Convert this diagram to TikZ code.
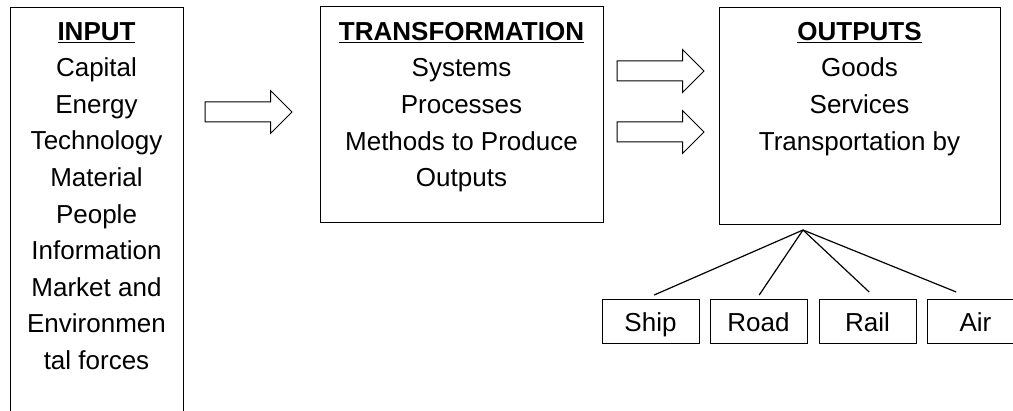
\documentclass[tikz,border=0pt]{standalone}
\usepackage{fontspec}
\setmainfont{Liberation Sans}
\usetikzlibrary{shapes.arrows}

\begin{document}
\begin{tikzpicture}[x=1pt, y=-1pt, font=\fontsize{26}{36.6}\selectfont,
    box/.style={draw, line width=1.4pt, inner sep=0, anchor=north west},
    lines/.style={align=center, inner sep=0, anchor=north},
    fat/.style={single arrow, draw, line width=1pt, inner xsep=0, inner ysep=9.5pt,
        single arrow head extend=11.5pt, single arrow tip angle=90, minimum height=87pt}]
    \useasboundingbox (0, 0) rectangle (1013, 411);

    \node (input) [box, minimum width=173pt, minimum height=425pt] at (10, 7) {};
    \node (trans) [box, minimum width=283pt, minimum height=216pt] at (320, 6) {};
    \node (output) [box, minimum width=281pt, minimum height=217pt] at (719, 7) {};

    \node (inputtext) [lines] at (96.5, 22) {\underline{\textbf{INPUT}}\\ Capital\\ Energy\\ Technology\\ Material\\ People\\ Information\\ Market and\\ Environmen\\ tal forces};
    \node (transtext) [lines] at (461.5, 22) {\underline{\textbf{TRANSFORMATION}}\\ Systems\\ Processes\\ Methods to Produce\\ Outputs};
    \node (outputtext) [lines] at (859.5, 22) {\underline{\textbf{OUTPUTS}}\\ Goods\\ Services\\ Transportation by};

    \node (arr1) [fat] at (243.5, 112) {};
    \node (arr2) [fat] at (655.5, 71) {};
    \node (arr3) [fat] at (655.5, 132) {};

    \node (ship) [box, minimum width=97pt, minimum height=44pt] at (602, 299) {};
    \node (road) [box, minimum width=97pt, minimum height=44pt] at (710, 299) {};
    \node (rail) [box, minimum width=97pt, minimum height=44pt] at (819, 299) {};
    \node (air) [box, minimum width=97pt, minimum height=44pt] at (927, 299) {};
    \node (shiptext) [anchor=base, inner sep=0] at (650.5, 332) {Ship};
    \node (roadtext) [anchor=base, inner sep=0] at (758.5, 332) {Road};
    \node (railtext) [anchor=base, inner sep=0] at (867.5, 332) {Rail};
    \node (airtext) [anchor=base, inner sep=0] at (975.5, 332) {Air};

    \coordinate (fan) at (803, 230);
    \draw[line width=1.2pt] (fan) -- ([xshift=3pt, yshift=4pt]ship.north);
    \draw[line width=1.2pt] (fan) -- ([yshift=4pt]road.north);
    \draw[line width=1.2pt] (fan) -- ([xshift=1pt, yshift=7pt]rail.north);
    \draw[line width=1.2pt] (fan) -- ([xshift=-20pt, yshift=7pt]air.north);
\end{tikzpicture}
\end{document}
